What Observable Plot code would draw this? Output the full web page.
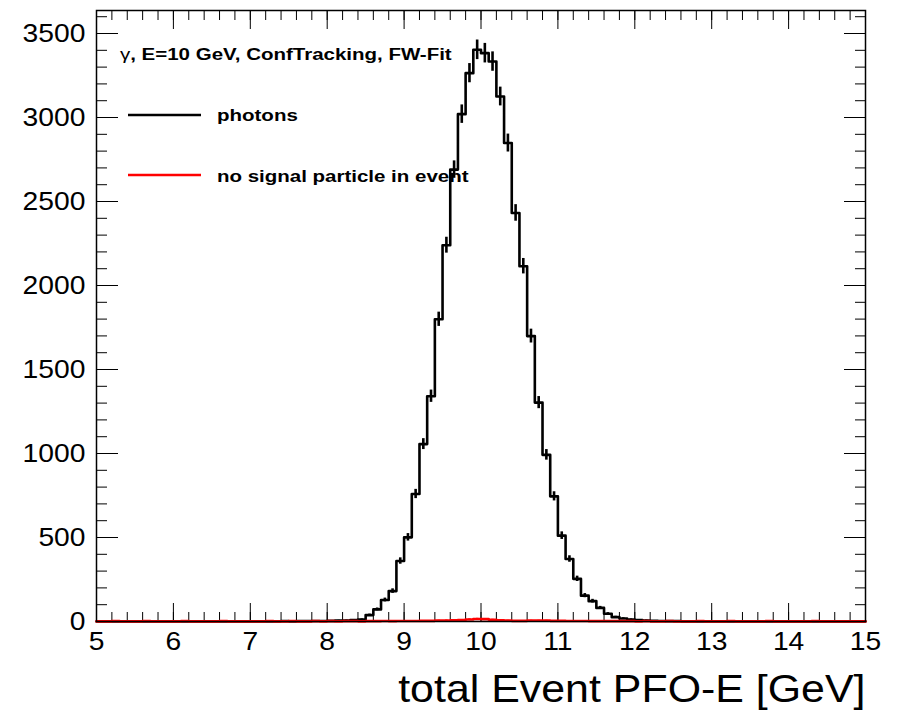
<!DOCTYPE html>
<html>
<head>
<meta charset="utf-8">
<script src="https://cdn.jsdelivr.net/npm/d3@7"></script>
<script src="https://cdn.jsdelivr.net/npm/@observablehq/plot@0.6"></script>
<style>
html, body { margin: 0; padding: 0; background: #fff; }
#chart { position: relative; width: 905px; height: 715px; }
</style>
</head>
<body>
<div id="chart"></div>
<script>
// ---- binning (histogram from 5 to 15 GeV, 0.1 GeV bins) ----
const binLow = 5, binHigh = 15, binWidth = 0.1;

// ---- photons: counts per bin ----
const photons = [
  0, 0, 0, 0, 0, 0, 0, 0, 0, 0,
  0, 0, 0, 0, 1, 0, 0, 1, 0, 1,
  1, 1, 0, 1, 2, 1, 2, 2, 3, 3,
  4, 5, 6, 8, 12, 38, 72, 128, 181, 360,
  501, 759, 1056, 1341, 1799, 2240, 2690, 3020, 3264, 3403,
  3383, 3333, 3125, 2848, 2432, 2115, 1699, 1303, 992, 745,
  511, 372, 254, 154, 121, 81, 46, 26, 18, 12,
  8, 6, 4, 3, 2, 2, 1, 1, 1, 1,
  0, 1, 0, 0, 1, 0, 0, 0, 0, 0,
  0, 0, 0, 0, 0, 0, 0, 0, 0, 0
];

// ---- no signal particle in event: counts per bin ----
const noSignal = [
  1, 1, 2, 1, 1, 1, 2, 1, 1, 1,
  1, 2, 1, 1, 1, 1, 2, 1, 1, 1,
  1, 1, 2, 1, 1, 2, 1, 1, 2, 1,
  2, 1, 2, 2, 1, 2, 2, 3, 2, 3,
  3, 3, 4, 4, 5, 6, 7, 9, 12, 15,
  14, 10, 7, 5, 4, 4, 5, 5, 5, 4,
  4, 3, 3, 3, 2, 2, 2, 2, 2, 2,
  1, 2, 1, 1, 2, 1, 1, 1, 2, 1,
  1, 1, 2, 1, 1, 1, 1, 2, 1, 1,
  1, 1, 1, 2, 1, 1, 1, 1, 1, 1
];

// ---- axes ----
const xTicks = [5, 6, 7, 8, 9, 10, 11, 12, 13, 14, 15];
const yTicks = [0, 500, 1000, 1500, 2000, 2500, 3000, 3500];
const yMax = 3637;
const xTitle = "total Event PFO-E [GeV]";

// ---- legend ----
const legendTitleSymbol = "γ";
const legendTitle = ", E=10 GeV, ConfTracking, FW-Fit";
const legendLabels = ["photons", "no signal particle in event"];
const legendColors = ["#000000", "#ff0000"];

// ---- derived tables ----
const xMinor = d3.range(0, 51).map(i => binLow + i * 0.2);
const yMinor = d3.range(0, 37).map(i => i * 100);

function steps(values) {
  const rows = values.map((v, i) => ({x: binLow + i * binWidth, y: v}));
  rows.push({x: binHigh, y: values[values.length - 1]});
  return rows;
}
function errors(values) {
  return values.map((v, i) => ({x: binLow + (i + 0.5) * binWidth, y1: v - Math.sqrt(v), y2: v + Math.sqrt(v), v}))
               .filter(d => d.v > 0);
}

const fontFamily = '"Liberation Sans", Arial, Helvetica, sans-serif';
const noText = () => "";

const plot = Plot.plot({
  width: 905,
  height: 715,
  marginLeft: 96,
  marginRight: 40,
  marginTop: 10,
  marginBottom: 94,
  style: {fontFamily, background: "white", overflow: "visible"},
  x: {domain: [binLow, binHigh]},
  y: {domain: [0, yMax]},
  marks: [
    // inward ticks on all four sides
    Plot.axisX(xMinor, {anchor: "bottom", tickSize: -9, tickFormat: noText, label: null}),
    Plot.axisX(xTicks, {anchor: "bottom", tickSize: -18, tickFormat: noText, label: null}),
    Plot.axisX(xMinor, {anchor: "top", tickSize: -9, tickFormat: noText, label: null}),
    Plot.axisX(xTicks, {anchor: "top", tickSize: -18, tickFormat: noText, label: null}),
    Plot.axisY(yMinor, {anchor: "left", tickSize: -11, tickFormat: noText, label: null}),
    Plot.axisY(yTicks, {anchor: "left", tickSize: -22, tickFormat: noText, label: null}),
    Plot.axisY(yMinor, {anchor: "right", tickSize: -11, tickFormat: noText, label: null}),
    Plot.axisY(yTicks, {anchor: "right", tickSize: -22, tickFormat: noText, label: null}),
    // tick labels
    Plot.axisX(xTicks, {anchor: "bottom", tickSize: 0, tickPadding: 11, fontSize: 25, tickFormat: d => String(d), label: null, fill: "black"}),
    Plot.axisY(yTicks, {anchor: "left", tickSize: 0, tickPadding: 11, fontSize: 25, tickFormat: d => String(d), label: null, fill: "black"}),
    // histograms
    Plot.line(steps(photons), {x: "x", y: "y", curve: "step-after", stroke: legendColors[0], strokeWidth: 2.6}),
    Plot.ruleX(errors(photons), {x: "x", y1: "y1", y2: "y2", stroke: legendColors[0], strokeWidth: 2.6}),
    Plot.line(steps(noSignal), {x: "x", y: "y", curve: "step-after", stroke: legendColors[1], strokeWidth: 2.6}),
    Plot.ruleX(errors(noSignal), {x: "x", y1: "y1", y2: "y2", stroke: legendColors[1], strokeWidth: 2.6}),
    Plot.frame({stroke: "black", strokeWidth: 1.5}),
    // axis title
    Plot.text([xTitle], {frameAnchor: "bottom-right", dy: 68, fontSize: 39, textAnchor: "end", lineAnchor: "middle", fill: "black"})
  ]
});

document.getElementById("chart").appendChild(plot);

// legend
const svg = d3.select(plot);
const leg = svg.append("g")
  .attr("class", "legend")
  .attr("font-family", fontFamily)
  .attr("font-weight", "bold")
  .attr("font-size", 16)
  .attr("text-anchor", "start")
  .attr("fill", "black");
const title = leg.append("text").attr("x", 120).attr("y", 60).attr("text-anchor", "start");
title.append("tspan").attr("font-weight", "normal").text(legendTitleSymbol);
title.append("tspan").text(legendTitle);
legendLabels.forEach((lab, i) => {
  leg.append("line")
    .attr("x1", 128).attr("x2", 201)
    .attr("y1", 115 + 60 * i).attr("y2", 115 + 60 * i)
    .attr("stroke", legendColors[i]).attr("stroke-width", 2.6);
  leg.append("text").attr("x", 217).attr("y", 121 + 61 * i).attr("text-anchor", "start").text(lab);
});

// widen glyphs horizontally to match the reference's wide rendering
svg.selectAll("text").each(function() {
  const el = this;
  if (!el.textContent.trim()) return;
  const inLegend = el.closest("g.legend") !== null;
  const isTitle = el.textContent === xTitle;
  const factor = inLegend ? 1.28 : (isTitle ? 1.10 : 1.13);
  const len = el.getComputedTextLength();
  el.setAttribute("textLength", (len * factor).toFixed(1));
  el.setAttribute("lengthAdjust", "spacingAndGlyphs");
});
</script>
</body>
</html>
